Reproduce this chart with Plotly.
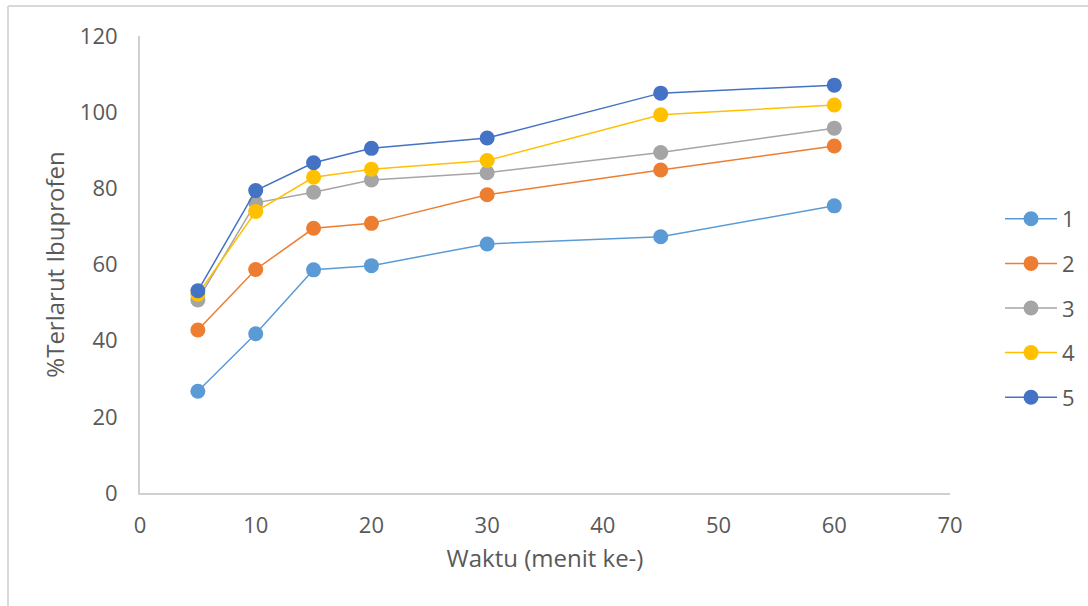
import plotly.graph_objects as go

# Sampling times (minutes) and percentage of ibuprofen dissolved for five formulas
waktu = [5, 10, 15, 20, 30, 45, 60]
f1 = [26.7, 41.8, 58.6, 59.7, 65.4, 67.3, 75.4]
f2 = [42.8, 58.7, 69.5, 70.8, 78.3, 84.8, 91.1]
f3 = [50.7, 76.2, 79.0, 82.2, 84.1, 89.4, 95.8]
f4 = [52.2, 73.9, 82.9, 85.0, 87.3, 99.3, 101.9]
f5 = [53.1, 79.4, 86.7, 90.5, 93.2, 105.0, 107.1]

names = ["1", "2", "3", "4", "5"]
series = [f1, f2, f3, f4, f5]
colors = ["#5B9BD5", "#ED7D31", "#A5A5A5", "#FFC000", "#4472C4"]

W, H = 1088, 606
L, R, T, B = 140, 138, 36, 113
pw, ph = W - L - R, H - T - B

fig = go.Figure()
for name, vals, col in zip(names, series, colors):
    fig.add_trace(go.Scatter(
        x=waktu, y=vals, name=name, mode="lines+markers",
        line=dict(color=col, width=1.5),
        marker=dict(color=col, size=15),
        legendgroup=name,
    ))

font_col = "#595959"
axis_col = "#D0D0D0"

def px_x(p):
    return (p - L) / pw

def px_y(p):
    return (H - B - p) / ph

fig.update_layout(
    width=W, height=H,
    margin=dict(l=L, r=R, t=T, b=B, autoexpand=False),
    paper_bgcolor="white", plot_bgcolor="white",
    font=dict(family="Open Sans", size=22, color=font_col),
    xaxis=dict(
        range=[0, 70], tickvals=[0, 10, 20, 30, 40, 50, 60, 70],
        showgrid=False, zeroline=False, showline=True,
        linecolor=axis_col, linewidth=2, ticks="",
        ticklabelstandoff=12,
        tickfont=dict(size=22, color=font_col),
        title=dict(text="Waktu (menit ke-)", standoff=12,
                   font=dict(size=24, color=font_col)),
    ),
    yaxis=dict(
        range=[0, 120], tickvals=[0, 20, 40, 60, 80, 100, 120],
        showgrid=False, zeroline=False, showline=True,
        linecolor=axis_col, linewidth=2, ticks="",
        ticklabelstandoff=16,
        tickfont=dict(size=22, color=font_col),
        title=dict(text="%Terlarut Ibuprofen", standoff=8,
                   font=dict(size=24, color=font_col)),
    ),
    legend=dict(
        x=px_x(1000), y=px_y(308), xanchor="left", yanchor="middle",
        font=dict(size=22, color=font_col),
        traceorder="grouped", tracegroupgap=13,
        itemwidth=52,
        bgcolor="rgba(0,0,0,0)",
    ),
    shapes=[
        dict(type="line", xref="paper", yref="paper",
             x0=px_x(8), x1=px_x(8), y0=px_y(606), y1=px_y(6),
             line=dict(color="#D9D9D9", width=2)),
        dict(type="line", xref="paper", yref="paper",
             x0=px_x(8), x1=px_x(1088), y0=px_y(6), y1=px_y(6),
             line=dict(color="#D9D9D9", width=2)),
    ],
)

fig.write_html("out.html")
